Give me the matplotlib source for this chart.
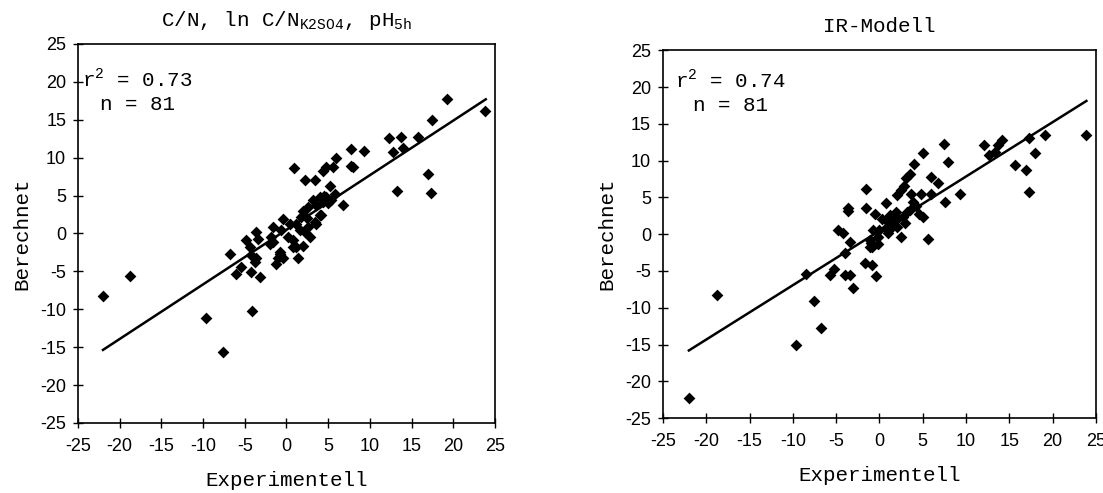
import matplotlib.pyplot as plt
import numpy as np

plt.rcParams["font.family"] = ["Liberation Mono", "DejaVu Sans Mono"]
plt.rcParams["axes.unicode_minus"] = False

# left panel: C/N, ln C/N_K2SO4, pH_5h
left_exp = [19.3, 23.8, 17.4, 12.3, 13.7, 15.8, 12.8, 14.0, 7.7, 9.3,
            7.7, 8.0, 17.0, 13.2, 17.3, 0.9, 6.0, 5.6, 4.8, 4.4,
            2.2, 3.4, 6.8, 5.2, 3.2, 4.0, 4.8, 5.4, 5.8, 4.4,
            3.6, 2.6, 2.0, 1.8, 4.0, 3.4, 2.6, 2.2, 2.8, 1.6,
            1.2, 0.4, -0.4, -0.6, 0.2, 0.8, 1.2, 2.0, 1.4, -0.8,
            -1.0, -1.2, -1.6, -1.8, -2.0, -3.6, -3.4, -4.8, -4.4, -4.2,
            -3.6, -6.8, -5.4, -6.0, -4.2, -3.2, -3.8, -22.0, -18.8, -9.7,
            -7.6, -4.1, -0.4, -0.8, 0.8, -1.6, 3.6, 4.1, 5.0, 4.5, 2.5]
left_calc = [17.7, 16.1, 14.9, 12.6, 12.7, 12.7, 10.8, 11.3, 11.1, 10.9,
             8.9, 8.8, 7.9, 5.6, 5.3, 8.6, 9.9, 8.7, 8.7, 8.3,
             7.0, 7.0, 3.7, 6.2, 4.4, 4.8, 4.8, 4.4, 5.2, 4.1,
             3.7, 3.5, 3.0, 2.2, 2.4, 1.5, 0.8, 0.2, -0.5, 0.4,
             1.3, 1.3, 1.9, 0.4, -0.5, -0.9, -1.8, -1.6, -3.3, -2.5,
             -3.3, -4.0, 0.8, -0.5, -1.4, 0.2, -0.7, -0.9, -1.8, -2.9,
             -3.3, -2.7, -4.4, -5.3, -5.1, -5.8, -3.8, -8.2, -5.6, -11.1,
             -15.6, -10.2, -3.3, -2.7, -1.8, -1.1, 1.3, 2.4, 4.0, 5.0, 2.0]
left_fit = (0.72, 0.48)  # slope, intercept

# right panel: IR-Modell
right_exp = [19.1, 17.3, 14.1, 13.7, 12.1, 12.7, 13.3, 18.0, 15.7, 16.9,
             17.3, 7.5, 7.9, 9.3, 7.6, 5.0, 4.0, 3.5, 3.1, 5.9,
             6.8, 6.0, 2.5, 2.0, 3.7, 4.8, 3.9, 4.6, 5.0, 3.5,
             2.7, 1.9, 1.2, 0.8, 1.6, 2.0, 2.5, 5.6, -1.6, -1.5,
             -3.6, -3.6, -0.5, 0.8, -0.7, 0.0, 0.8, 1.4, -1.1, -0.2,
             -1.1, -4.8, -4.2, -3.4, -4.0, -22.0, -18.8, -9.6, -6.8, -7.6,
             -8.5, -5.7, -5.2, -4.0, -3.4, -3.1, -1.7, -0.9, -0.4, -0.9,
             -0.2, 3.2, 2.2, 1.0, 3.0, 4.2, 2.8, 1.2, 0.3, -1.0, 23.8]
right_calc = [13.5, 13.1, 12.8, 12.1, 12.1, 10.7, 11.2, 11.0, 9.4, 8.7,
              5.7, 12.3, 9.8, 5.5, 4.4, 11.0, 9.5, 8.2, 7.6, 7.8,
              7.0, 5.5, 6.0, 5.3, 5.5, 5.5, 4.4, 2.8, 2.4, 3.3,
              2.4, 3.0, 2.6, 4.3, 1.9, 1.0, -0.4, -0.6, 6.2, 3.5,
              3.5, 3.2, 2.7, 1.9, 0.6, 0.5, 0.8, 1.0, -0.8, -0.4,
              -1.7, 0.6, 0.1, -1.0, -2.6, -22.3, -8.3, -15.0, -12.7, -9.1,
              -5.4, -5.6, -4.7, -5.6, -5.6, -7.3, -3.9, -4.2, -5.7, -1.8,
              -1.4, 3.0, 2.2, 0.2, 1.5, 3.8, 6.5, 1.6, 2.0, -1.2, 13.5]
right_fit = (0.739, 0.45)

panels = [
    ("C/N, ln C/N$_\\mathregular{K2SO4}$, pH$_\\mathregular{5h}$", left_exp, left_calc, left_fit, "0.73", 81),
    ("IR-Modell", right_exp, right_calc, right_fit, "0.74", 81),
]
rects = [[0.0707, 0.142, 0.378, 0.769], [0.601, 0.152, 0.3926, 0.746]]
# text anchors (axes fraction): r2 line, n line
text_pos = [((0.01, 0.887), (0.053, 0.826)), ((0.028, 0.897), (0.069, 0.835))]
ticks = np.arange(-25, 26, 5)

fig = plt.figure(figsize=(11.03, 4.93), dpi=100)
for rect, tpos, (title, xs, ys, fit, r2, n) in zip(rects, text_pos, panels):
    ax = fig.add_axes(rect)
    ax.scatter(xs, ys, marker="D", s=36, color="black", zorder=3, linewidths=0)
    slope, icept = fit
    xl = np.array([min(xs), max(xs) + 0.1])
    ax.plot(xl, slope * xl + icept, color="black", lw=1.8)
    ax.set_xlim(-25, 25)
    ax.set_ylim(-25, 25)
    ax.set_xticks(ticks)
    ax.set_yticks(ticks)
    ax.tick_params(direction="inout", length=7, width=1, labelsize=13)
    ax.tick_params(axis="x", pad=7)
    ax.tick_params(axis="y", pad=5)
    for lab in ax.get_xticklabels() + ax.get_yticklabels():
        lab.set_fontfamily("Liberation Sans")
    for sp in ax.spines.values():
        sp.set_linewidth(1.2)
    ax.set_title(title, fontsize=15, pad=13)
    ax.set_xlabel("Experimentell", fontsize=15, labelpad=12)
    ax.set_ylabel("Berechnet", fontsize=15, labelpad=6)
    ax.text(tpos[0][0], tpos[0][1], "r$^\\mathregular{2}$ = " + r2, transform=ax.transAxes,
            fontsize=15, va="baseline")
    ax.text(tpos[1][0], tpos[1][1], "n = %d" % n, transform=ax.transAxes,
            fontsize=15, va="baseline")

plt.savefig("out.png", dpi=100)
plt.close()
